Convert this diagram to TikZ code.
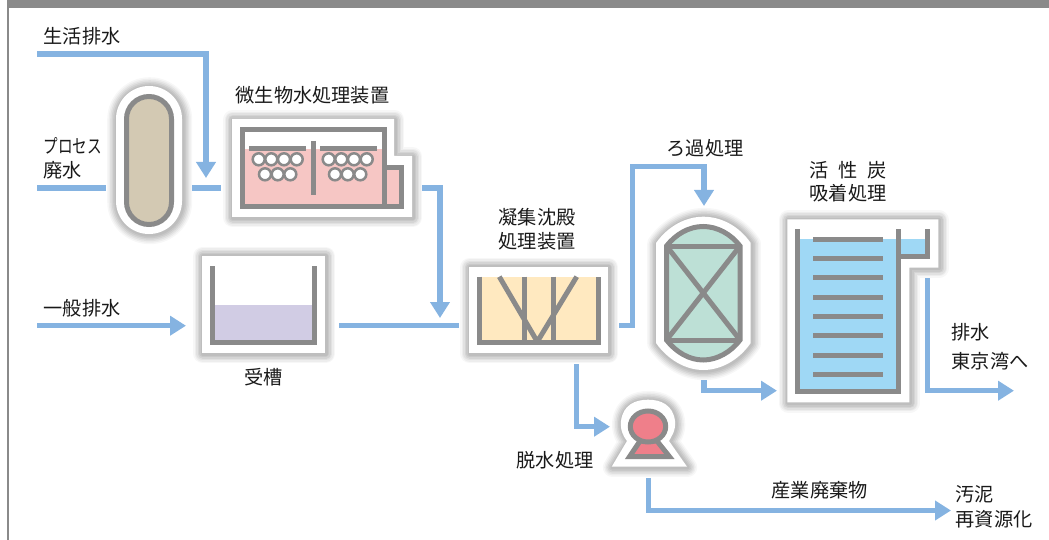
\documentclass[tikz,border=0pt]{standalone}
\usepackage{fontspec}
\setmainfont{Noto Sans CJK JP}
\usetikzlibrary{arrows.meta}
\definecolor{pipeblue}{HTML}{85B3E1}
\definecolor{wallgray}{HTML}{8A8A8A}
\definecolor{sandfill}{HTML}{D3C9B3}
\definecolor{pinkfill}{HTML}{F6C6C4}
\definecolor{lilacfill}{HTML}{D1CCE4}
\definecolor{creamfill}{HTML}{FFE9C0}
\definecolor{mintfill}{HTML}{BDE0D6}
\definecolor{skyfill}{HTML}{9FD8F5}
\definecolor{rosefill}{HTML}{EF7F8A}
\tikzset{
  pipe/.style={draw=pipeblue, line width=5.5pt},
  flow/.style={pipe, -{Triangle[length=16pt,width=19pt]}},
  wall/.style={draw=wallgray, line width=5pt},
  unitbody/.style={fill=white, line join=round,
    preaction={draw=black, draw opacity=.03, line width=19pt, line join=round, transform canvas={xshift=.7pt,yshift=-.7pt}},
    preaction={draw=black, draw opacity=.04, line width=16pt, line join=round, transform canvas={xshift=.7pt,yshift=-.7pt}},
    preaction={draw=black, draw opacity=.05, line width=13pt, line join=round, transform canvas={xshift=.7pt,yshift=-.7pt}},
    preaction={draw=black, draw opacity=.06, line width=10pt, line join=round, transform canvas={xshift=.7pt,yshift=-.7pt}},
    preaction={draw=black, draw opacity=.06, line width=7pt, line join=round, transform canvas={xshift=.7pt,yshift=-.7pt}},
    preaction={draw=black, draw opacity=.05, line width=4pt, line join=round, transform canvas={xshift=.7pt,yshift=-.7pt}}},
  label/.style={inner sep=0pt, anchor=west, xshift=-.5pt, text=black!90, font=\fontsize{19.2}{24}\selectfont},
  ring/.style={draw=wallgray, fill=white, line width=2.5pt},
}
\begin{document}
\begin{tikzpicture}[x=1pt, y=-1pt]
  \useasboundingbox (0,0) rectangle (1049,540);
  % Frame
  \fill[wallgray] (7,0) rectangle (1049,8);
  \fill[wallgray] (7,0) rectangle (9,540);

  % Vessel
  \path[unitbody, rounded corners=33pt] (116,86) rectangle (182,234);
  \draw[wall, fill=sandfill, rounded corners=22.5pt] (126.5,96.5) rectangle (171.5,224.5);

  % Biological unit
  \path[unitbody] (232,119) -- (394,119) -- (394,156) -- (412,156) -- (412,217) -- (232,217) -- cycle;
  \fill[pinkfill] (242,149) rectangle (384,205);
  \fill[pinkfill] (384,168) rectangle (401,205);
  \draw[wall] (384,167.5) -- (401,167.5) -- (401,206.5) -- (384,206.5);
  \draw[wall] (242.5,129.5) rectangle (384,206.5);
  \draw[wall] (313,141) -- (313,195);
  \draw[wall] (249,149) -- (306,149);
  \draw[wall] (320,149) -- (377,149);
  \foreach \cx in {258.7,271.3,284,296.7,328.7,341.3,354,366.7}
    \draw[ring] (\cx,159.3) circle[radius=6pt];
  \foreach \cx in {265,277.7,290.3,335,347.7,360.3}
    \draw[ring] (\cx,174.3) circle[radius=6pt];

  % Receiving tank
  \path[unitbody] (202,255.5) rectangle (325,353);
  \fill[lilacfill] (212,305) rectangle (315,343);
  \draw[wall] (212.5,266) -- (212.5,342.8) -- (314.5,342.8) -- (314.5,266);

  % Settling unit
  \path[unitbody] (469,266.7) rectangle (608,353);
  \fill[creamfill] (479,276.7) rectangle (598,342);
  \draw[wall] (479,276.7) -- (479,342.5) -- (598,342.5) -- (598,276.7);
  \draw[wall] (524,276.7) -- (524,345);
  \draw[wall] (553.5,276.7) -- (553.5,345);
  \draw[wall, line join=bevel] (499.3,276.7) -- (537.3,341.7) -- (576.7,276.7);

  % Filter
  \path[unitbody] (656,243) .. controls (668,226) and (686,216.7) .. (703.3,216.7)
    .. controls (721,216.7) and (739,226) .. (750.7,243) -- (750.7,343)
    .. controls (739,360) and (721,370) .. (703.3,370)
    .. controls (686,370) and (668,360) .. (656,343) -- cycle;
  \draw[wall, fill=mintfill] (666.5,246) .. controls (676,234) and (689,226.5) .. (703.3,226.5)
    .. controls (717,226.5) and (731,234) .. (740,246) -- (740,340)
    .. controls (731,352) and (717,360) .. (703.3,360)
    .. controls (689,360) and (676,352) .. (666.5,340) -- cycle;
  \draw[wall] (666.5,246) -- (740,246);
  \draw[wall] (666.5,340) -- (740,340);
  \draw[wall] (666.5,246) -- (740,340);
  \draw[wall] (740,246) -- (666.5,340);

  % Carbon tower
  \path[unitbody] (787.3,219.3) -- (938.3,219.3) -- (938.3,267.7) -- (909.3,267.7) -- (909.3,402.3) -- (787.3,402.3) -- cycle;
  \fill[skyfill] (800,239) rectangle (896,389.5);
  \fill[skyfill] (901,239) rectangle (925,254.5);
  \draw[wall] (797.7,229.3) -- (797.7,391.7) -- (898.7,391.7) -- (898.7,229.3);
  \draw[wall] (898.7,256.8) -- (927.7,256.8) -- (927.7,229.3);
  \foreach \by in {239,258.3,277.7,297,316.3,335.7,355,374.3}
    \draw[wall] (813,\by) -- (883,\by);

  % Pump
  \path[unitbody] (621,421) .. controls (623,405) and (635,399.7) .. (648,399.7)
    .. controls (661,399.7) and (673,405) .. (675,421)
    .. controls (676,431) and (671,437) .. (669,441) -- (687,466.7) -- (611.7,466.7) -- (627,441)
    .. controls (624,437) and (620,431) .. (621,421) -- cycle;
  \draw[wall, fill=rosefill, line join=miter] (640,441) -- (629.5,456.7) -- (669.5,456.7) -- (657,441) -- cycle;
  \draw[wall, fill=rosefill] (648,426.5) ellipse[x radius=17.7pt, y radius=15.5pt];

  % Nodes
  \node[label] (domestic) at (44,36) {生活排水};
  \node[label] (process) at (44,146) {\scalebox{.76}[1]{プロセス}};
  \node[label] (processb) at (44,170) {廃水};
  \node[label] (general) at (44,308) {一般排水};
  \node[label] (biotitle) at (236,95) {微生物水処理装置};
  \node[label] (tanktitle) at (245,377) {受槽};
  \node[label] (settletitle) at (499,217) {凝集沈殿};
  \node[label] (settletitleb) at (499,241.7) {処理装置};
  \node[label] (filtertitle) at (667,148) {ろ過処理};
  \node[label] (carbontitle) at (810,170) {活\hspace{0.5em}性\hspace{0.5em}炭};
  \node[label] (carbontitleb) at (810,193.3) {吸着処理};
  \node[label] (drain) at (952,332.7) {排水};
  \node[label] (drainb) at (952,361.7) {東京湾へ};
  \node[label] (pumptitle) at (517,460) {脱水処理};
  \node[label] (waste) at (772,490.7) {産業廃棄物};
  \node[label] (sludge) at (956,494) {汚泥};
  \node[label] (sludgeb) at (956,519.3) {再資源化};

  % Pipe ends
  \coordinate (domesticIn) at (37,54);
  \coordinate (bioDrop) at (206,178);
  \coordinate (processIn) at (37,188);
  \coordinate (vesselIn) at (106,188);
  \coordinate (vesselOut) at (192,188);
  \coordinate (bioIn) at (221,188);
  \coordinate (bioOut) at (422,188);
  \coordinate (settleDrop) at (440,318);
  \coordinate (generalIn) at (37,325.7);
  \coordinate (tankIn) at (186,325.7);
  \coordinate (tankOut) at (339,325.7);
  \coordinate (settleIn) at (459,325.7);
  \coordinate (settleOut) at (619,325.7);
  \coordinate (settleUp) at (632.7,166.7);
  \coordinate (filterIn) at (704,206);
  \coordinate (filterOut) at (704,380);
  \coordinate (carbonIn) at (777,390.7);
  \coordinate (carbonOut) at (927.5,278.3);
  \coordinate (bayOut) at (1014,390.7);
  \coordinate (settleSludge) at (576.4,364);
  \coordinate (pumpIn) at (610,426.7);
  \coordinate (pumpOut) at (648.6,478);
  \coordinate (sludgeOut) at (951,510.5);

  % Arrows
  \draw[flow] (domesticIn) -| (bioDrop);
  \draw[pipe] (processIn) -- (vesselIn);
  \draw[pipe] (vesselOut) -- (bioIn);
  \draw[flow] (bioOut) -| (settleDrop);
  \draw[flow] (generalIn) -- (tankIn);
  \draw[pipe] (tankOut) -- (settleIn);
  \draw[flow] (settleOut) -| (settleUp) -| (filterIn);
  \draw[flow] (filterOut) |- (carbonIn);
  \draw[flow] (carbonOut) |- (bayOut);
  \draw[flow] (settleSludge) |- (pumpIn);
  \draw[flow] (pumpOut) |- (sludgeOut);
\end{tikzpicture}
\end{document}
